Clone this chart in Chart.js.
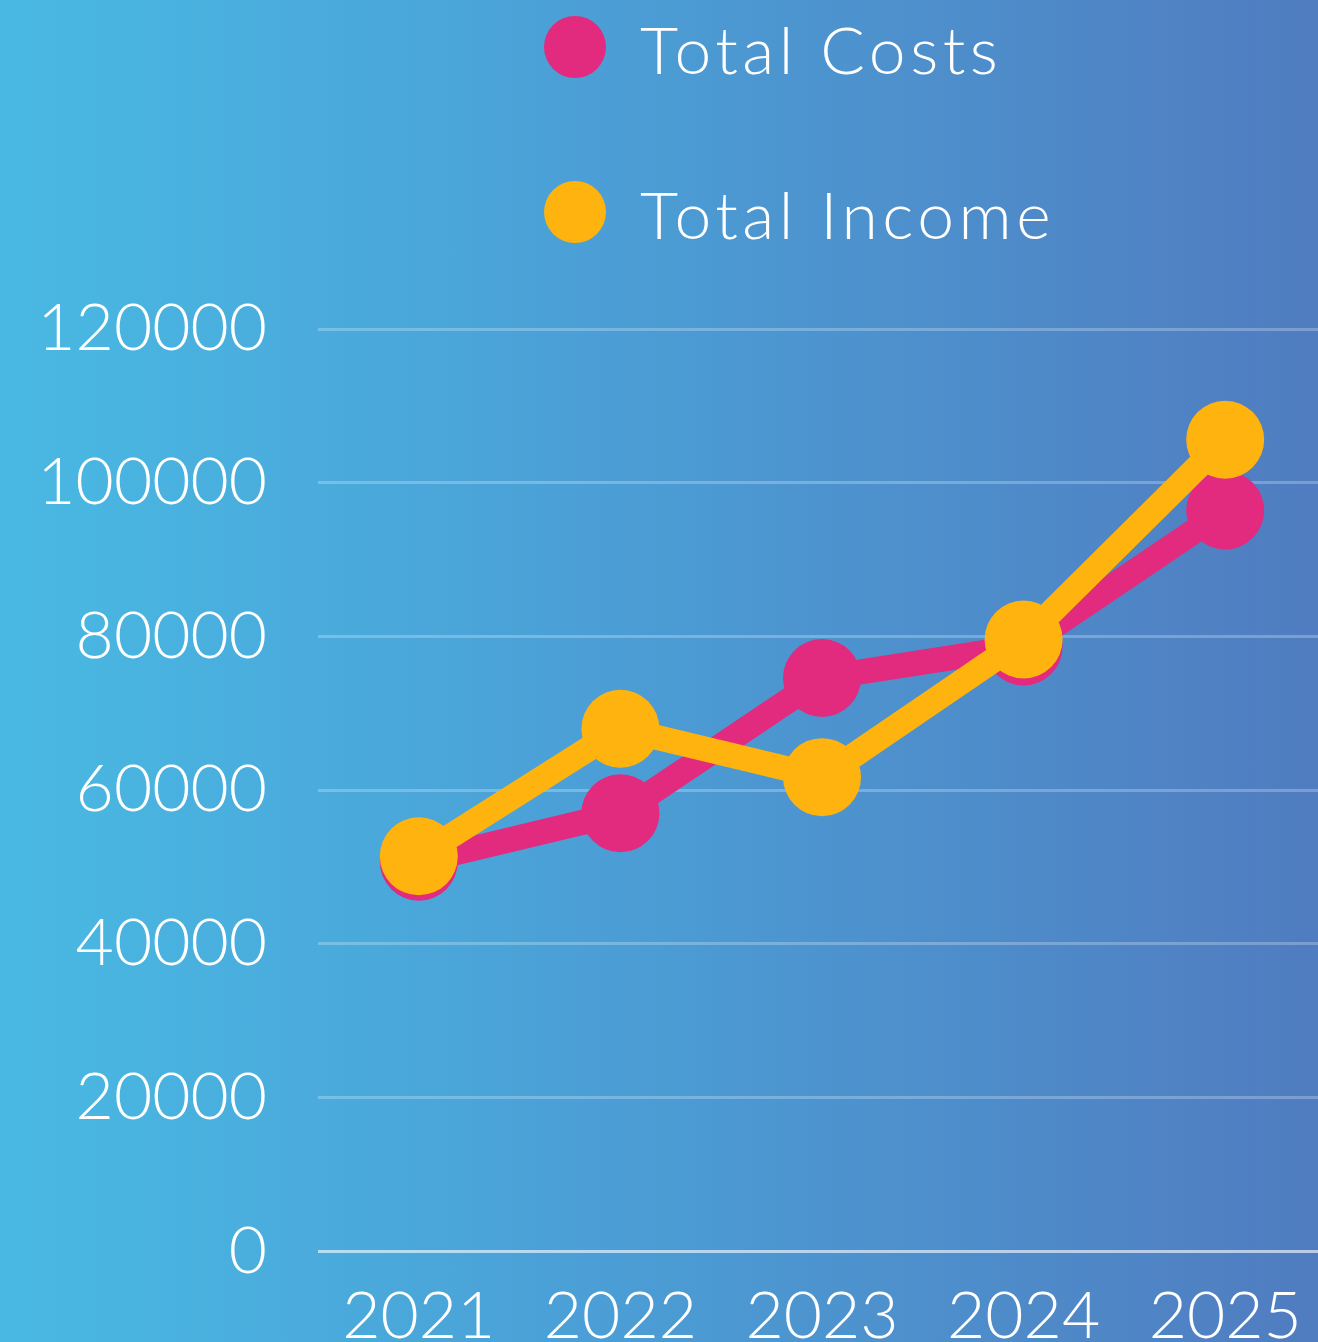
<!DOCTYPE html>
<html>
<head>
<meta charset="utf-8">
<script src="https://cdn.jsdelivr.net/npm/chart.js@4/dist/chart.umd.min.js"></script>
<style>
  html, body { margin: 0; padding: 0; overflow: hidden; }
  body {
    width: 1318px; height: 1342px; position: relative;
    background: linear-gradient(to right, #49b9e3 0%, #4b9fd6 45%, #507cc0 100%);
    font-family: "Lato", "Open Sans", sans-serif;
  }
  #wrap { position: absolute; left: 0; top: 0; width: 1326px; height: 1342px; }
  .legend-item { position: absolute; left: 0; color: #fff; font-size: 66px; font-weight: 300; line-height: 66px; white-space: nowrap; letter-spacing: 4.5px; }
  .legend-dot { position: absolute; width: 62px; height: 62px; border-radius: 50%; }
</style>
</head>
<body>
<div id="wrap"><canvas id="myChart" width="1326" height="1342"></canvas></div>
<div id="legend"></div>
<script>
// values
var years = ['2021', '2022', '2023', '2024', '2025']
var total_costs = [50700, 57000, 74600, 78700, 96400]
var total_income = [51400, 68000, 61700, 79600, 105600]
var y_ticks = [0, 20000, 40000, 60000, 80000, 100000, 120000]

var pink = '#e22a7e'
var yellow = '#ffb30f'

var ctx = document.getElementById('myChart').getContext('2d');
var myChart = new Chart(ctx, {
  type: 'line',
  data: {
    labels: years,
    datasets: [{
      label: 'Total Costs',
      data: total_costs,
      borderColor: pink,
      backgroundColor: pink,
      pointBackgroundColor: pink,
      borderWidth: 25,
      pointRadius: 39,
      pointBorderWidth: 0,
      order: 1
    }, {
      label: 'Total Income',
      data: total_income,
      borderColor: yellow,
      backgroundColor: yellow,
      pointBackgroundColor: yellow,
      borderWidth: 25,
      pointRadius: 39,
      pointBorderWidth: 0,
      order: 0
    }]
  },
  options: {
    responsive: false,
    animation: false,
    events: [],
    layout: { autoPadding: false, padding: { top: 329, left: 0, right: 0, bottom: 0 } },
    plugins: { legend: { display: false }, tooltip: { enabled: false } },
    scales: {
      x: {
        offset: true,
        grid: { display: false },
        border: { display: false },
        ticks: { color: '#fff', padding: 18, maxRotation: 0, font: { family: 'Lato', size: 66, weight: 300 } },
        afterFit: function (scale) {
          scale.height = 88
          scale.paddingLeft = 0
          scale.paddingRight = 0
        }
      },
      y: {
        min: 0,
        max: 120000,
        afterBuildTicks: function (scale) { scale.ticks = y_ticks.map(function (v) { return { value: v } }) },
        grid: {
          drawTicks: false,
          lineWidth: 3,
          color: function (c) { return c.tick && c.tick.value === 0 ? 'rgba(255,255,255,0.6)' : 'rgba(255,255,255,0.25)' }
        },
        border: { display: false },
        ticks: {
          color: '#fff', padding: 51, font: { family: 'Lato', size: 66, weight: 300 },
          callback: function (v) { return String(v) }
        },
        afterFit: function (scale) { scale.width = 318 }
      }
    }
  }
});

// legend from the datasets, stacked like the picture
var legend = document.getElementById('legend')
myChart.data.datasets.forEach(function (ds, i) {
  var top = 16 + i * 165
  var dot = document.createElement('div')
  dot.className = 'legend-dot'
  dot.style.background = ds.borderColor
  dot.style.left = '544px'
  dot.style.top = top + 'px'
  legend.appendChild(dot)
  var txt = document.createElement('div')
  txt.className = 'legend-item'
  txt.style.left = '640px'
  txt.style.top = top + 'px'
  txt.textContent = ds.label
  legend.appendChild(txt)
})
</script>
</body>
</html>
